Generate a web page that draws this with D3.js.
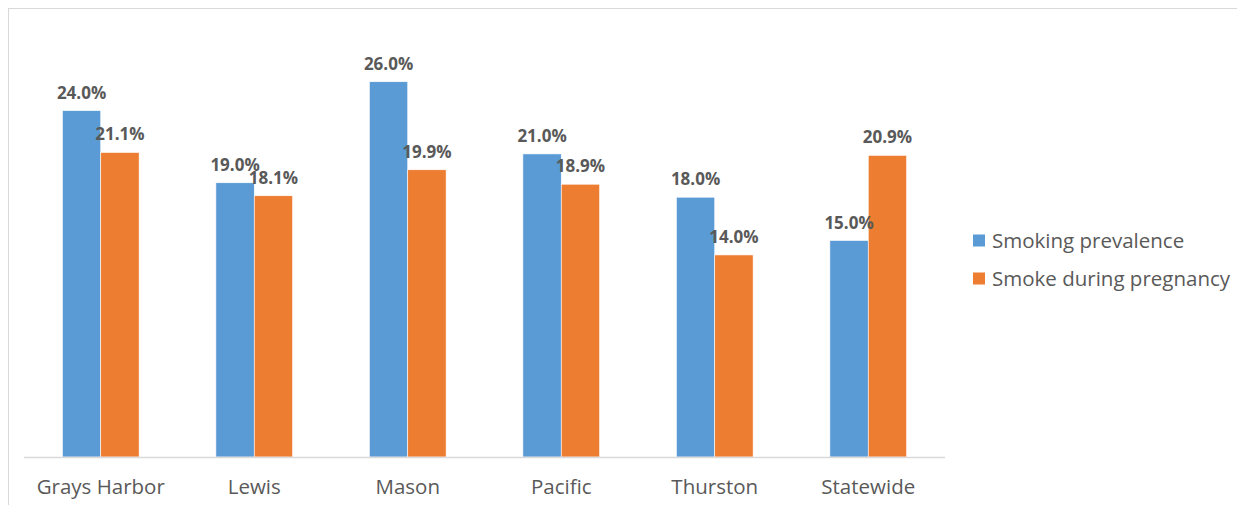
<!DOCTYPE html>
<html>
<head>
<meta charset="utf-8">
<script src="https://cdn.jsdelivr.net/npm/d3@7"></script>
<style>
  html, body { margin: 0; padding: 0; background: #fff; }
  svg { display: block; }
  text { font-family: "Open Sans", "Liberation Sans", sans-serif; }
</style>
</head>
<body>
<svg id="chart" width="1237" height="505"></svg>
<script>
// Counties compared against the statewide figure
const categories = ["Grays Harbor", "Lewis", "Mason", "Pacific", "Thurston", "Statewide"];
const seriesNames = ["Smoking prevalence", "Smoke during pregnancy"];
const smokingPrevalence = [24.0, 19.0, 26.0, 21.0, 18.0, 15.0];
const smokeDuringPregnancy = [21.1, 18.1, 19.9, 18.9, 14.0, 20.9];
const seriesColors = ["#5B9BD5", "#ED7D31"];

const seriesValues = [smokingPrevalence, smokeDuringPregnancy];
const rows = categories.map((c, i) => ({
  category: c,
  values: seriesNames.map((s, j) => ({ series: s, value: seriesValues[j][i], color: seriesColors[j] }))
}));

const svg = d3.select("#chart");
const W = 1237, H = 505;

// chart frame
svg.append("rect")
  .attr("x", 8.5).attr("y", 8.5)
  .attr("width", W + 10).attr("height", H + 10)
  .attr("fill", "#fff").attr("stroke", "#d9d9d9").attr("stroke-width", 1);

const plot = { left: 24, right: 945, top: 24, bottom: 457 };

const x = d3.scaleBand().domain(categories).range([plot.left, plot.right]).paddingInner(0).paddingOuter(0);
const bw = x.bandwidth();
const xInner = d3.scaleBand().domain(seriesNames).range([bw * 0.25, bw * 0.75]).padding(0);
const y = d3.scaleLinear().domain([0, 30]).range([plot.bottom, plot.top]);

const groups = svg.append("g").selectAll("g")
  .data(rows).join("g")
  .attr("transform", d => `translate(${x(d.category)},0)`);

groups.selectAll("rect")
  .data(d => d.values).join("rect")
  .attr("x", d => xInner(d.series))
  .attr("y", d => y(d.value))
  .attr("width", xInner.bandwidth())
  .attr("height", d => y(0) - y(d.value))
  .attr("fill", d => d.color)
  .attr("stroke", "#fff").attr("stroke-width", 0.6);

groups.selectAll("text.val")
  .data(d => d.values).join("text")
  .attr("class", "val")
  .attr("x", d => xInner(d.series) + xInner.bandwidth() / 2)
  .attr("y", d => y(d.value) - 12)
  .attr("text-anchor", "middle")
  .attr("font-size", 17)
  .attr("font-weight", "bold")
  .attr("fill", "#595959")
  .text(d => d.value.toFixed(1) + "%");

// category axis
const xAxis = svg.append("g")
  .attr("transform", `translate(0,${plot.bottom})`)
  .call(d3.axisBottom(x).tickSize(0).tickPadding(0));
xAxis.select(".domain").attr("stroke", "#d9d9d9").attr("stroke-width", 1.3)
  .attr("d", `M${plot.left},0.5H${plot.right}`);
xAxis.selectAll(".tick text")
  .attr("y", 36.5)
  .attr("dy", 0)
  .attr("font-size", 20.5)
  .attr("font-family", "\"Open Sans\", \"Liberation Sans\", sans-serif")
  .attr("fill", "#595959");

// legend
const legend = svg.append("g").attr("transform", "translate(973,0)");
const legendY = d3.scalePoint().domain(seriesNames).range([241, 279]);
const li = legend.selectAll("g").data(seriesNames).join("g")
  .attr("transform", d => `translate(0,${legendY(d)})`);
li.append("rect")
  .attr("x", 0).attr("y", -6.5).attr("width", 12).attr("height", 12)
  .attr("fill", (d, i) => seriesColors[i]);
li.append("text")
  .attr("x", 19).attr("y", 0).attr("dy", "0.35em")
  .attr("font-size", 20.5).attr("fill", "#595959")
  .text(d => d);
</script>
</body>
</html>
